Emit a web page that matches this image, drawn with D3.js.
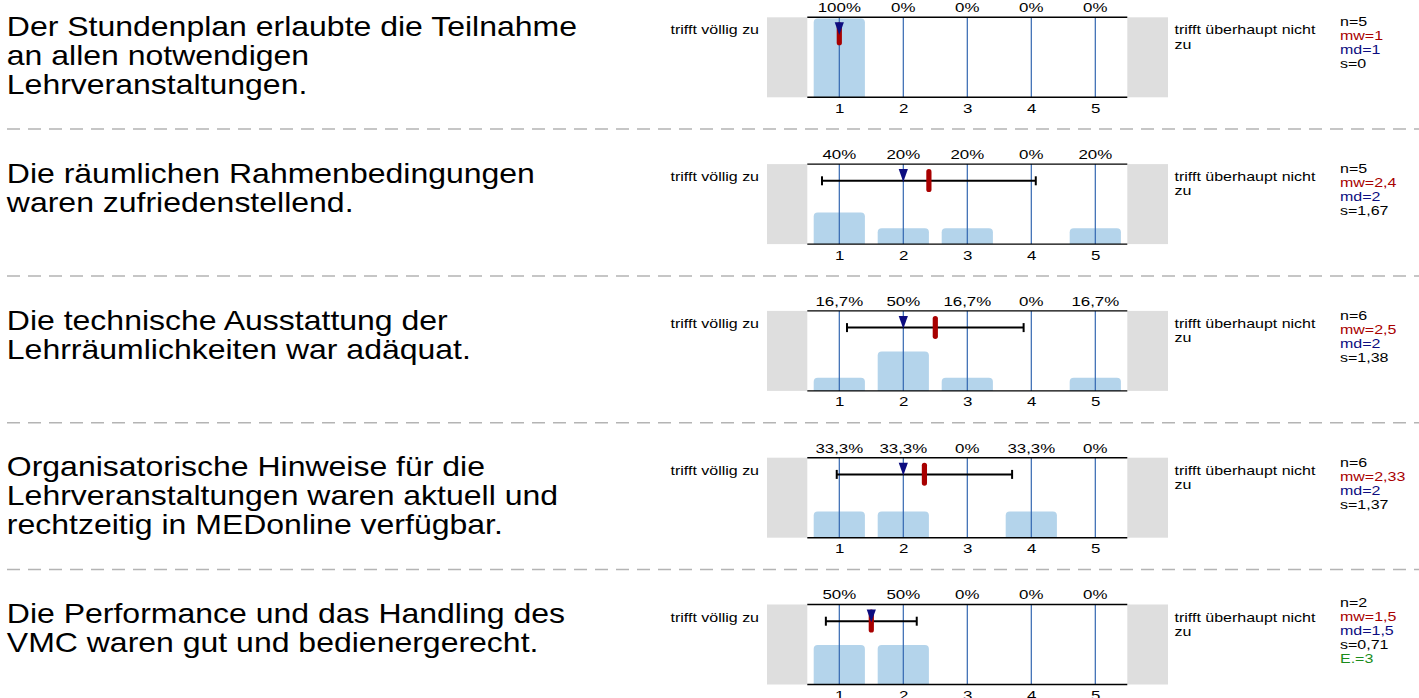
<!DOCTYPE html>
<html><head><meta charset="utf-8">
<script src="https://cdn.jsdelivr.net/npm/d3@7/dist/d3.min.js"></script>
<style>body{margin:0;background:#fff}svg{display:block}text{font-family:"Liberation Sans",Arial,sans-serif}</style>
</head><body>
<svg id="c" width="1419" height="698"></svg>
<script>
// ---- data ----
const titles = [
  ["Der Stundenplan erlaubte die Teilnahme", "an allen notwendigen", "Lehrveranstaltungen."],
  ["Die räumlichen Rahmenbedingungen", "waren zufriedenstellend."],
  ["Die technische Ausstattung der", "Lehrräumlichkeiten war adäquat."],
  ["Organisatorische Hinweise für die", "Lehrveranstaltungen waren aktuell und", "rechtzeitig in MEDonline verfügbar."],
  ["Die Performance und das Handling des", "VMC waren gut und bedienergerecht."]
];
const categories = [1, 2, 3, 4, 5];
const percents = [
  [100, 0, 0, 0, 0],
  [40, 20, 20, 0, 20],
  [16.7, 50, 16.7, 0, 16.7],
  [33.3, 33.3, 0, 33.3, 0],
  [50, 50, 0, 0, 0]
];
const nValues = [5, 5, 6, 6, 2];
const meanValues = [1, 2.4, 2.5, 2.33, 1.5];
const medianValues = [1, 2, 2, 2, 1.5];
const sdValues = [0, 1.67, 1.38, 1.37, 0.71];
const abstentions = [null, null, null, null, 3];
const leftLabel = "trifft völlig zu";
const rightLabel = ["trifft überhaupt nicht", "zu"];

// ---- layout ----
const SX = 1.25;
const svg = d3.select("#c");
const T0 = 17.3, ROW = 146.8, PH = 80;
const x = d3.scaleLinear().domain([0.5, 5.5]).range([807.3, 1127.3]);
const fmt = v => String(v).replace(".", ",");
const C = {grey:"#dedede", bar:"#b4d4eb", grid:"#3366b0", navy:"#0c0c80", red:"#a80000", green:"#1a8c1a", sep:"#b4b4b4"};

function stext(g, tx, ty, str, size, fill, anchor, sx) {
  return g.append("text")
    .attr("transform", `translate(${tx},${ty}) scale(${sx || SX},1)`)
    .attr("font-size", size).attr("fill", fill || "#000")
    .attr("text-anchor", anchor || "start").text(str);
}
function topRounded(x0, y0, w, h, r) {
  r = Math.min(r, h, w / 2);
  const p = d3.path();
  p.moveTo(x0, y0 + h);
  p.lineTo(x0, y0 + r);
  p.quadraticCurveTo(x0, y0, x0 + r, y0);
  p.lineTo(x0 + w - r, y0);
  p.quadraticCurveTo(x0 + w, y0, x0 + w, y0 + r);
  p.lineTo(x0 + w, y0 + h);
  p.closePath();
  return p.toString();
}

titles.forEach((lines, i) => {
  const T = T0 + i * ROW;
  const g = svg.append("g");
  const y = d3.scaleLinear().domain([0, 100]).range([T + PH, T + 1.2]);

  // title
  lines.forEach((ln, k) => stext(g, 6.8, T + 18.6 + k * 29, ln, 27, "#000", "start", 1.185));

  // grey side boxes
  g.append("rect").attr("x", 767).attr("y", T).attr("width", x(0.5) - 767).attr("height", PH).attr("fill", C.grey);
  g.append("rect").attr("x", x(5.5)).attr("y", T).attr("width", 1168 - x(5.5)).attr("height", PH).attr("fill", C.grey);

  // bars
  const bw = x(1.4) - x(0.6);
  percents[i].forEach((p, j) => {
    if (p <= 0) return;
    g.append("path").attr("d", topRounded(x(categories[j]) - bw / 2, y(p), bw, y(0) - y(p), 4)).attr("fill", C.bar);
  });

  // grid lines
  g.selectAll(".gl").data(categories).join("line")
    .attr("x1", d => x(d)).attr("x2", d => x(d)).attr("y1", T).attr("y2", T + PH)
    .attr("stroke", C.grid).attr("stroke-width", 1.2);

  // frame lines
  [T, T + PH].forEach(yy => g.append("line").attr("x1", x(0.5)).attr("x2", x(5.5)).attr("y1", yy).attr("y2", yy)
    .attr("stroke", "#000").attr("stroke-width", 1.4));

  // percent labels
  percents[i].forEach((p, j) => stext(g, x(categories[j]), T - 5.2, fmt(p) + "%", 13.5, "#000", "middle"));
  // tick labels
  const ax = g.append("g").attr("transform", `translate(0,${T + PH})`)
    .call(d3.axisBottom(x).tickValues(categories).tickSize(0).tickPadding(0).tickFormat(d3.format("d")));
  ax.select(".domain").remove();
  ax.selectAll("text").attr("y", 15.6).attr("dy", null).attr("font-size", 13.5).attr("fill", "#000")
    .attr("font-family", '"Liberation Sans",Arial,sans-serif').attr("transform", `scale(${SX},1)`);

  // error bar
  const ey = T + 16.7, m = meanValues[i], s = sdValues[i];
  g.append("line").attr("x1", x(m - s)).attr("x2", x(m + s)).attr("y1", ey).attr("y2", ey).attr("stroke", "#000").attr("stroke-width", 2);
  [m - s, m + s].forEach(v => g.append("line").attr("x1", x(v)).attr("x2", x(v)).attr("y1", ey - 4.5).attr("y2", ey + 4.5)
    .attr("stroke", "#000").attr("stroke-width", 2));
  // mean marker
  g.append("rect").attr("x", x(m) - 2.6).attr("y", T + 5).attr("width", 5.2).attr("height", 23).attr("rx", 2.6).attr("fill", C.red);
  // median triangle
  const mx = x(medianValues[i]);
  g.append("path").attr("d", `M${mx - 4.6},${T + 5}L${mx + 4.6},${T + 5}L${mx},${T + 17.8}Z`).attr("fill", C.navy);

  // side labels
  stext(g, 670.5, T + 17, leftLabel, 12.8);
  rightLabel.forEach((ln, k) => stext(g, 1174.5, T + 17 + k * 14.3, ln, 12.8));

  // stats
  const st = [{t: `n=${nValues[i]}`, c: "#000"}, {t: `mw=${fmt(m)}`, c: C.red}, {t: `md=${fmt(medianValues[i])}`, c: C.navy}, {t: `s=${fmt(s)}`, c: "#000"}];
  if (abstentions[i] != null) st.push({t: `E.=${abstentions[i]}`, c: C.green});
  const L = 14;
  st.forEach((o, k) => stext(g, 1340, T + 30 - (st.length - 1) * L / 2 + k * L, o.t, 12.8, o.c));

  // separator
  if (i < titles.length - 1)
    g.append("line").attr("x1", 7).attr("x2", 1419).attr("y1", T + 111.8).attr("y2", T + 111.8)
      .attr("stroke", C.sep).attr("stroke-width", 1.5).attr("stroke-dasharray", "13,8");
});
</script>
</body></html>
